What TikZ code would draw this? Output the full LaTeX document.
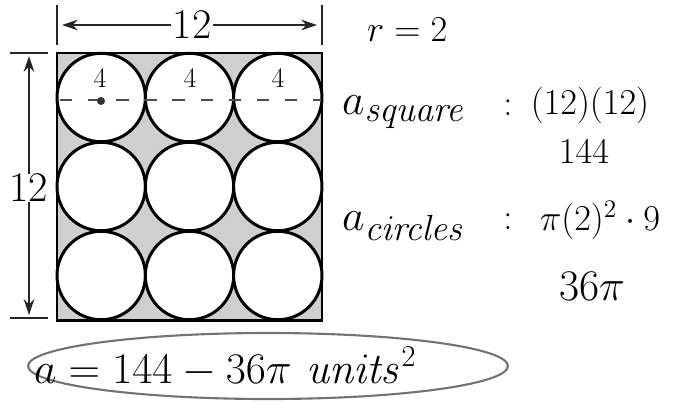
\documentclass[tikz,border=0pt]{standalone}
\usetikzlibrary{arrows.meta}
\begin{document}
\begin{tikzpicture}[x=0.02cm,y=-0.02cm,
  every node/.style={inner sep=1pt},
  edge/.style={line width=1.7pt,black},
  dim/.style={line width=0.9pt,black!85},
  dimarrow/.style={dim,-{Stealth[length=9pt,width=6pt]}},
  hand/.style={font=\fontsize{22}{26}\selectfont},
  big/.style={font=\fontsize{30}{34}\selectfont},
  small/.style={font=\fontsize{16}{18}\selectfont}]
\useasboundingbox (0,0) rectangle (686,410);
% Square with nine circles
\fill[gray!38] (57,53) rectangle (322,320);
\foreach \i in {0,1,2}
  \foreach \j in {0,1,2}
    \draw[edge,fill=white] (101.2+88.3*\i,97.5+89*\j) circle (44.2);
\draw[edge] (57,53) rectangle (322,320);
% Diameters in the top row
\draw[dashed,line width=0.9pt,black!70,dash pattern=on 7pt off 9pt] (60,100) -- (320,100);
\fill[black!80] (101,101) circle (4);
\node[small] (d1) at (100,78) {4};
\node[small] (d2) at (190,78) {4};
\node[small] (d3) at (278,78) {4};
% Top dimension
\coordinate (tl) at (57,5);
\coordinate (tl2) at (57,45);
\coordinate (tr) at (322,5);
\coordinate (tr2) at (322,45);
\draw[dim] (tl) -- (tl2);
\draw[dim] (tr) -- (tr2);
\node[font=\fontsize{24}{27}\selectfont] (wtop) at (192,25) {12};
\draw[dimarrow] (wtop.west) -- (62,25);
\draw[dimarrow] (wtop.east) -- (317,25);
% Left dimension
\coordinate (lt) at (10,53);
\coordinate (lt2) at (48,53);
\coordinate (lb) at (10,318);
\coordinate (lb2) at (48,318);
\draw[dim] (lt) -- (lt2);
\draw[dim] (lb) -- (lb2);
\node[font=\fontsize{24}{27}\selectfont,fill=white,inner sep=0pt] (hleft) at (29,188) {12};
\draw[dimarrow] (hleft.north) -- (29,56);
\draw[dimarrow] (hleft.south) -- (29,315);
% Work on the right
\node[hand,anchor=west] (rad) at (365,30) {$r=2$};
\node[big,anchor=west] (asq) at (340,112) {$a_{\mathit{square}}$};
\node[hand] (asqc) at (508,108) {$:$};
\node[hand] (asqv) at (590,105) {$(12)(12)$};
\node[hand] (sq) at (584,152) {$144$};
\node[big,anchor=west] (aci) at (340,226) {$a_{\mathit{circles}}$};
\node[hand] (acic) at (508,222) {$:$};
\node[hand] (aciv) at (600,220) {$\pi(2)^2\cdot9$};
\node[font=\fontsize{26}{30}\selectfont] (ci) at (592,286) {$36\pi$};
% Answer
\draw[line width=1.2pt,black!55] (268,366) ellipse (240 and 33);
\node[font=\fontsize{27}{30}\selectfont,anchor=west] (ans) at (32,367) {$a=144-36\pi\ \mathit{units}^2$};
\end{tikzpicture}
\end{document}
